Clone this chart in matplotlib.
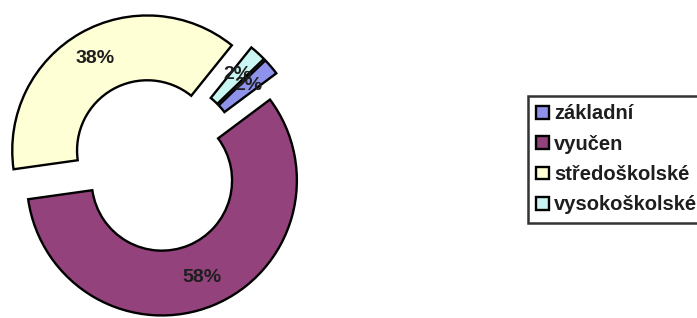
import matplotlib
matplotlib.use("Agg")
import matplotlib.pyplot as plt

plt.rcParams['font.family'] = ['Liberation Sans', 'DejaVu Sans']

categories = ["základní", "vyučen", "středoškolské", "vysokoškolské"]
values = [2, 58, 38, 2]
colors = ["#8e92ea", "#93427c", "#ffffd6", "#c9f5f2"]

fig = plt.figure(figsize=(6.97, 3.18), dpi=100)
ax = fig.add_axes([0, 0, 1, 1])

R = 135.0
wedges, texts, autotexts = ax.pie(
    values,
    colors=colors,
    explode=[16.7] * len(values),
    startangle=44,
    counterclock=False,
    radius=R,
    center=(155.5, 153),
    autopct='%.0f%%',
    pctdistance=0.78,
    wedgeprops=dict(width=0.48 * R, edgecolor='black', linewidth=1.7),
    textprops=dict(fontsize=14, fontweight='bold', color='#1e1e1e'),
)

ax.set_xlim(0, 697)
ax.set_ylim(0, 318)
ax.set_aspect('equal')
ax.axis('off')

leg = fig.legend(
    wedges, categories,
    loc='upper left',
    bbox_to_anchor=(528 / 697, 1 - 96 / 318),
    borderaxespad=0,
    frameon=True,
    fancybox=False,
    shadow=False,
    prop=dict(size=14.5, weight='bold'),
    handlelength=0.6,
    handleheight=0.6,
    handletextpad=0.28,
    labelspacing=0.56,
    borderpad=0.42,
)
leg.get_frame().set_edgecolor('black')
leg.get_frame().set_linewidth(1.8)
for t in leg.get_texts():
    t.set_color('#1e1e1e')

fig.savefig('out.png', dpi=100)
